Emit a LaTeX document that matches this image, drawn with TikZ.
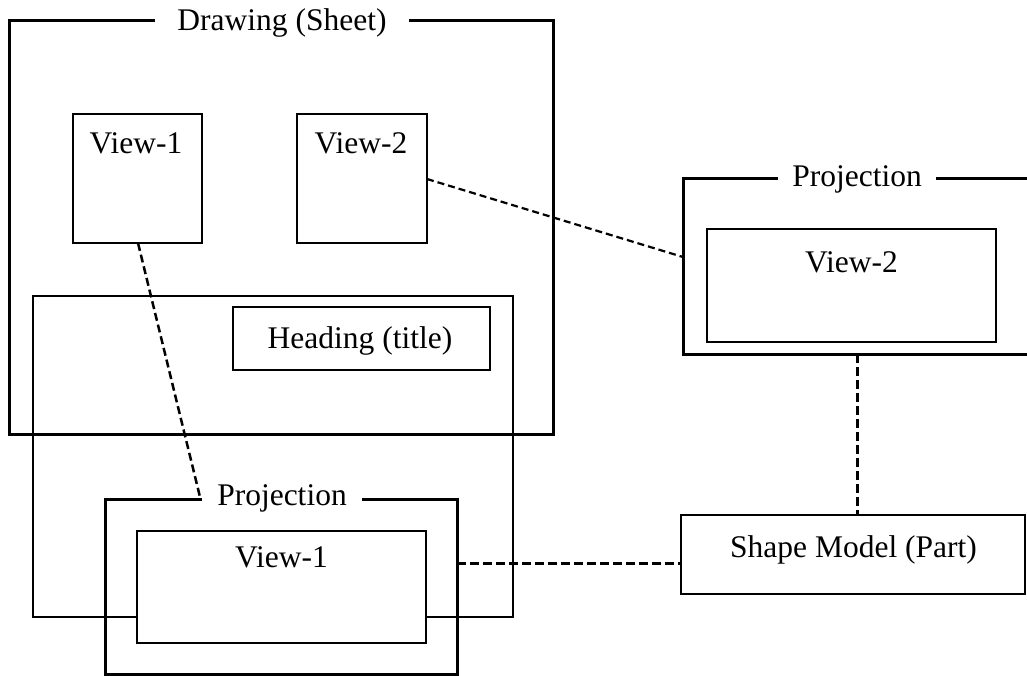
\documentclass[tikz,border=0pt]{standalone}
\usepackage{fontspec}
\setmainfont{Liberation Serif}
\begin{document}
\begin{tikzpicture}[x=1pt,y=-1pt,
  every node/.style={inner sep=0pt, outer sep=0pt},
  frame/.style={draw, line width=3pt, anchor=north west},
  vbox/.style={draw, line width=2.8pt, anchor=north west, fill=white},
  ibox/.style={draw, line width=2.2pt, anchor=north west, fill=white},
  thinbox/.style={draw, line width=1.6pt, anchor=north west},
  lbl/.style={font=\fontsize{31.5}{38}\selectfont, anchor=base},
  title/.style={lbl, fill=white, inner ysep=2pt},
  link/.style={draw, line width=3pt, dash pattern=on 9pt off 4pt},
  thinlink/.style={draw, line width=2.2pt, dash pattern=on 7pt off 4pt}
]
\useasboundingbox (0,0) rectangle (1027,675);
\begin{scope}
\clip (0,0) rectangle (1027,675);
% Drawing (Sheet)
\node[frame, minimum width=544pt, minimum height=414pt] (sheet) at (9,20) {};
\node[title, inner xsep=22pt] (sheett) at (282,30) {Drawing (Sheet)};
\node[vbox, minimum width=129pt, minimum height=129pt] (sv1) at (73,114) {};
\node[lbl] (sv1t) at (136,153) {View-1};
\node[vbox, minimum width=130pt, minimum height=129pt] (sv2) at (297,114) {};
\node[lbl] (sv2t) at (361,153) {View-2};
% heading container
\node[thinbox, minimum width=480pt, minimum height=321pt] (hc) at (33,296) {};
\node[vbox, minimum width=257pt, minimum height=63pt] (head) at (233,307) {};
\node[lbl] (headt) at (360,348) {Heading (title)};
% Projection (bottom)
\node[frame, minimum width=352pt, minimum height=175pt] (p1) at (105,499) {};
\node[title, inner xsep=15pt] (p1t) at (282,505) {Projection};
\node[ibox, minimum width=289pt, minimum height=112pt] (iv1) at (137,531) {};
\node[lbl] (iv1t) at (281.5,567) {View-1};
% Projection (right)
\node[frame, minimum width=348pt, minimum height=176pt] (p2) at (683,178) {};
\node[title, inner xsep=14.5pt] (p2t) at (857,186) {Projection};
\node[ibox, minimum width=289pt, minimum height=113pt] (iv2) at (707,229) {};
\node[lbl] (iv2t) at (851.5,272) {View-2};
% Shape model
\node[vbox, minimum width=344pt, minimum height=79pt] (sm) at (681,515) {};
\node[lbl] (smt) at (853.5,557) {Shape Model (Part)};
% connectors
\coordinate (c1) at (138,243);
\coordinate (c2) at (200,497);
\draw[thinlink, line width=2.5pt, dash pattern=on 8pt off 4pt] (c1) -- (c2);
\draw[thinlink] (sv2.east |- 0,179) -- (p2.west |- 0,257);
\draw[link] (p2.south -| 857,0) -- (sm.north -| 857,0);
\draw[link] (p1.east |- 0,563) -- (sm.west |- 0,563);
\end{scope}
\end{tikzpicture}
\end{document}
